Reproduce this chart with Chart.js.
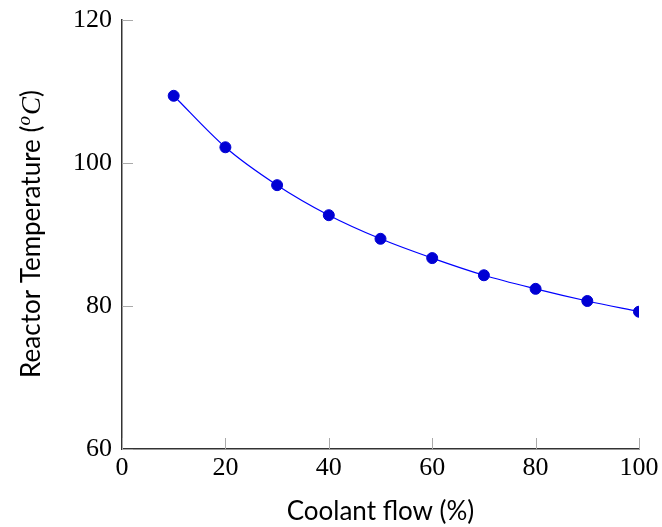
<!DOCTYPE html>
<html>
<head>
<meta charset="utf-8">
<script src="https://cdn.jsdelivr.net/npm/chart.js@4"></script>
<style>
  html, body { margin: 0; padding: 0; background: #fff; }
  #wrap { width: 662px; height: 527px; }
</style>
</head>
<body>
<div id="wrap"><canvas id="chart" width="662" height="527"></canvas></div>
<script>
const coolantFlow = [10, 20, 30, 40, 50, 60, 70, 80, 90, 100];
const reactorTemp = [109.4, 102.2, 96.9, 92.7, 89.4, 86.7, 84.3, 82.4, 80.7, 79.2];
const xTicks = [0, 20, 40, 60, 80, 100];
const yTicks = [60, 80, 100, 120];

const serif = "'Liberation Serif', 'DejaVu Serif', serif";
const sans = "Lato, 'Open Sans', sans-serif";

// ticks point inward, like pgfplots
const innerTicks = {
  id: "innerTicks",
  afterDatasetsDraw(chart) {
    const ctx = chart.ctx;
    const { x, y } = chart.scales;
    ctx.save();
    ctx.strokeStyle = "#aaa";
    ctx.lineWidth = 1;
    xTicks.forEach((v) => {
      const px = Math.round(x.getPixelForValue(v)) + 0.5;
      ctx.beginPath();
      ctx.moveTo(px, y.bottom);
      ctx.lineTo(px, y.bottom - 11);
      ctx.stroke();
    });
    yTicks.forEach((v) => {
      const py = Math.round(y.getPixelForValue(v)) + 0.5;
      ctx.beginPath();
      ctx.moveTo(x.left, py);
      ctx.lineTo(x.left + 11, py);
      ctx.stroke();
    });
    ctx.restore();
  },
};

// y title with math-style (^oC)
const yTitle = {
  id: "yTitle",
  afterDraw(chart) {
    const ctx = chart.ctx;
    const area = chart.chartArea;
    const parts = [
      { text: "Reactor Temperature (", font: "26px " + sans, dy: 0 },
      { text: "o", font: "italic 19px " + serif, dy: -10 },
      { text: "C", font: "italic 27px " + serif, dy: 0 },
      { text: ")", font: "26px " + sans, dy: 0 },
    ];
    let total = 0;
    parts.forEach((p) => {
      ctx.font = p.font;
      p.w = ctx.measureText(p.text).width;
      total += p.w;
    });
    ctx.save();
    ctx.translate(40, (area.top + area.bottom) / 2);
    ctx.rotate(-Math.PI / 2);
    ctx.fillStyle = "#000";
    ctx.textBaseline = "alphabetic";
    let cx = -total / 2;
    parts.forEach((p) => {
      ctx.font = p.font;
      ctx.fillText(p.text, cx, p.dy);
      cx += p.w + (p.text === "o" ? 1 : 0);
    });
    ctx.restore();
  },
};

new Chart(document.getElementById("chart").getContext("2d"), {
  type: "line",
  data: {
    datasets: [
      {
        data: coolantFlow.map((v, i) => ({ x: v, y: reactorTemp[i] })),
        borderColor: "#0000ff",
        borderWidth: 1.2,
        backgroundColor: "#0000d4",
        pointBackgroundColor: "#0000d4",
        pointBorderColor: "#0000d4",
        pointRadius: 5.5,
        pointBorderWidth: 1,
        cubicInterpolationMode: "monotone",
        fill: false,
      },
    ],
  },
  plugins: [innerTicks, yTitle],
  options: {
    responsive: false,
    animation: false,
    devicePixelRatio: 1,
    layout: { padding: { top: 20, right: 23, left: 0, bottom: 0 } },
    plugins: {
      legend: { display: false },
      tooltip: { enabled: false },
    },
    scales: {
      x: {
        type: "linear",
        min: 0,
        max: 100,
        afterBuildTicks: (axis) => {
          axis.ticks = xTicks.map((v) => ({ value: v }));
        },
        afterFit: (axis) => {
          axis.height = 78;
          axis.paddingLeft = 0;
          axis.paddingRight = 0;
        },
        grid: { display: false, drawTicks: false },
        border: { display: true, color: "#333", width: 1.5 },
        ticks: {
          color: "#000",
          padding: 4,
          maxRotation: 0,
          font: { family: serif, size: 26 },
        },
        title: {
          display: true,
          text: "Coolant flow (%)",
          color: "#000",
          font: { family: sans, size: 26 },
          padding: { top: 4, bottom: 0 },
        },
      },
      y: {
        type: "linear",
        min: 60,
        max: 120,
        afterBuildTicks: (axis) => {
          axis.ticks = yTicks.map((v) => ({ value: v }));
        },
        afterFit: (axis) => {
          axis.width = 122;
          axis.paddingTop = 0;
          axis.paddingBottom = 0;
        },
        grid: { display: false, drawTicks: false },
        border: { display: true, color: "#333", width: 1.5 },
        ticks: {
          color: "#000",
          padding: 10,
          font: { family: serif, size: 26 },
        },
      },
    },
  },
});
</script>
</body>
</html>
